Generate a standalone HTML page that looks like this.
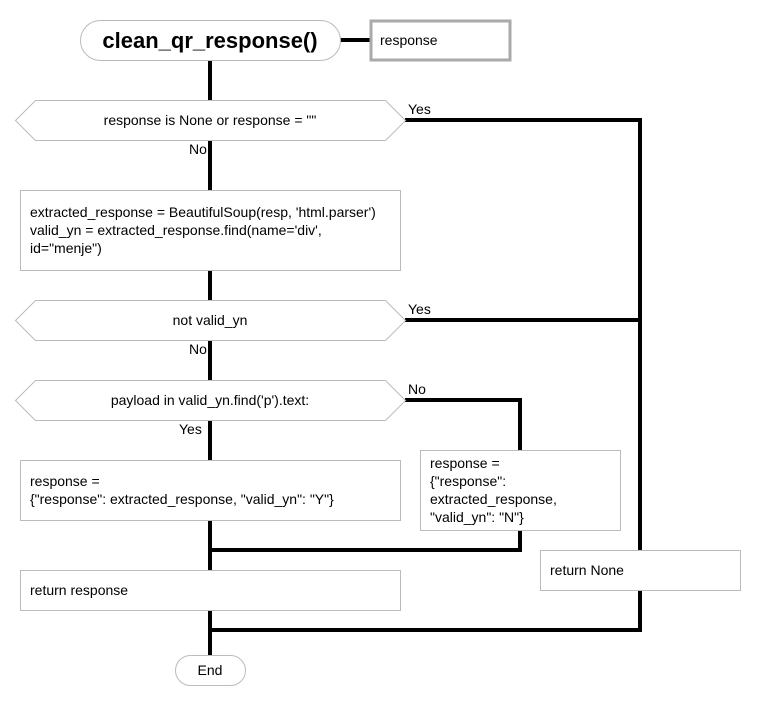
<!DOCTYPE html>
<html><head><meta charset="utf-8"><style>
html,body{margin:0;padding:0;background:#fff;}
svg{display:block;}
text{font-family:"Liberation Sans",Arial,sans-serif;font-size:14px;fill:#000;}
</style></head><body>
<svg width="760" height="710" viewBox="0 0 760 710" xmlns="http://www.w3.org/2000/svg">
<g stroke="#000" stroke-width="4" fill="none">
<line x1="210" y1="60" x2="210" y2="657"/>
<line x1="340" y1="40" x2="370" y2="40"/>
<polyline points="405,120 640,120 640,630 208,630"/>
<line x1="405" y1="320" x2="640" y2="320"/>
<polyline points="405,400 520,400 520,550 208,550"/>
</g>
<g fill="#fff" stroke="#bbb" stroke-width="1">
<rect x="80.5" y="20.5" width="260" height="40" rx="20"/>
<polygon points="15.5,120.5 35.5,100.5 385.5,100.5 405.5,120.5 385.5,140.5 35.5,140.5"/>
<rect x="20.5" y="190.5" width="380" height="80"/>
<polygon points="15.5,320.5 35.5,300.5 385.5,300.5 405.5,320.5 385.5,340.5 35.5,340.5"/>
<polygon points="15.5,400.5 35.5,380.5 385.5,380.5 405.5,400.5 385.5,420.5 35.5,420.5"/>
<rect x="20.5" y="460.5" width="380" height="60"/>
<rect x="420.5" y="450.5" width="200" height="80"/>
<rect x="540.5" y="550.5" width="200" height="40"/>
<rect x="20.5" y="570.5" width="380" height="40"/>
<rect x="175.5" y="655.5" width="70" height="30" rx="15"/>
</g>
<rect x="371" y="21" width="139" height="39" fill="#fff" stroke="#aaa" stroke-width="3"/>
<text x="210" y="48" text-anchor="middle" style="font-size:22px;font-weight:bold">clean_qr_response()</text>
<text x="380" y="45">response</text>
<text x="210" y="125" text-anchor="middle">response is None or response = ""</text>
<text x="408" y="114">Yes</text>
<text x="189" y="154">No</text>
<text x="30" y="217">extracted_response = BeautifulSoup(resp, 'html.parser')</text>
<text x="30" y="235">valid_yn = extracted_response.find(name='div',</text>
<text x="30" y="253">id="menje")</text>
<text x="210" y="325" text-anchor="middle">not valid_yn</text>
<text x="408" y="314">Yes</text>
<text x="189" y="354">No</text>
<text x="210" y="405" text-anchor="middle">payload in valid_yn.find('p').text:</text>
<text x="408" y="394">No</text>
<text x="179" y="434">Yes</text>
<text x="30" y="486">response =</text>
<text x="30" y="504">{"response": extracted_response, "valid_yn": "Y"}</text>
<text x="430" y="468">response =</text>
<text x="430" y="486">{"response":</text>
<text x="430" y="504">extracted_response,</text>
<text x="430" y="522">"valid_yn": "N"}</text>
<text x="550" y="575">return None</text>
<text x="30" y="595">return response</text>
<text x="210" y="675" text-anchor="middle">End</text>
</svg>
</body></html>
